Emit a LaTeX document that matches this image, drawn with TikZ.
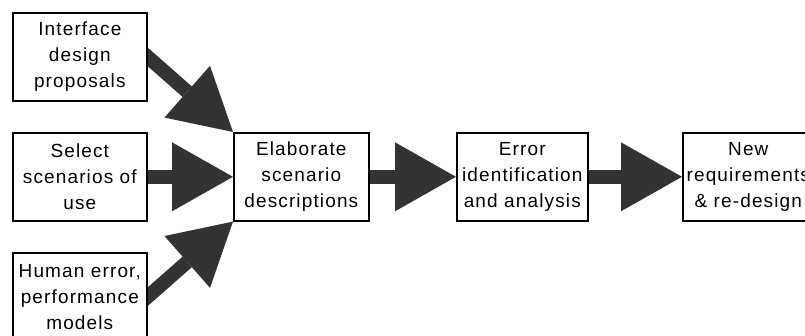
\documentclass[tikz,border=0pt]{standalone}
\usepackage{fontspec}
\setmainfont{Liberation Sans}[LetterSpace=6]
\usetikzlibrary{arrows.meta,calc,backgrounds}
\definecolor{arrowgrey}{RGB}{51,51,51}

\begin{document}
\begin{tikzpicture}[x=1pt,y=-1pt,
  stepbox/.style={draw=black, line width=1.6pt, fill=white, anchor=north west,
    minimum height=88pt, inner sep=0pt, align=center,
    font=\fontsize{19}{26}\selectfont},
  fatarrow/.style={draw=arrowgrey, line width=14pt,
    -{Triangle[width=69pt,length=61pt,line width=0pt]}},
]
\useasboundingbox (0,0) rectangle (805,336);

% input boxes on the left
\node[stepbox, minimum width=134pt] (iface) at (12,12)  {Interface\\design\\proposals};
\node[stepbox, minimum width=134pt] (select) at (12,132) {Select\\scenarios of\\use};
\node[stepbox, minimum width=134pt] (human) at (12,252) {Human error,\\performance\\models};

% main chain
\node[stepbox, minimum width=135pt] (elab) at (233,132) {Elaborate\\scenario\\descriptions};
\node[stepbox, minimum width=131pt] (err) at (456,132) {Error\\identification\\and analysis};
\node[stepbox, minimum width=131pt] (newreq) at (682,132) {New\\requirements\\\& re-design};

% block arrows behind the boxes
\begin{scope}[on background layer]
  \draw[fatarrow] ($(iface.east)!-12pt!(elab.north west)$) -- (elab.north west);
  \draw[fatarrow] (select.east) -- (elab.west);
  \draw[fatarrow] ($(human.east)!-12pt!(elab.south west)$) -- (elab.south west);
  \draw[fatarrow] (elab.east) -- (err.west);
  \draw[fatarrow] (err.east) -- (newreq.west);
\end{scope}
\end{tikzpicture}
\end{document}
